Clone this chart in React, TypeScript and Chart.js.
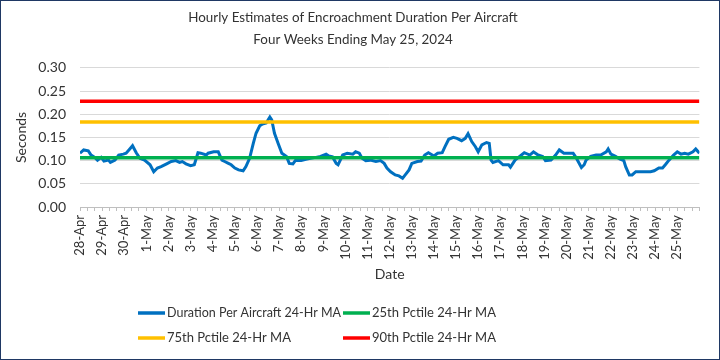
import React, { useEffect, useRef } from "react";
import { Chart, registerables } from "chart.js";

Chart.register(...registerables);

const titleLines = [
  "Hourly Estimates of Encroachment Duration Per Aircraft",
  "Four Weeks Ending May 25, 2024",
];

const dayLabels = [
  "28-Apr", "29-Apr", "30-Apr", "1-May", "2-May", "3-May", "4-May", "5-May",
  "6-May", "7-May", "8-May", "9-May", "10-May", "11-May", "12-May", "13-May",
  "14-May", "15-May", "16-May", "17-May", "18-May", "19-May", "20-May",
  "21-May", "22-May", "23-May", "24-May", "25-May",
];

const totalHours = 672;

// hours since 28-Apr 00:00
const hours = [
  0, 4, 9, 12, 16, 19, 23, 26, 31, 33, 38, 42, 47, 50, 54, 57, 61, 65, 70, 76,
  80, 84, 88, 94, 99, 104, 108, 111, 115, 120, 124, 128, 131, 137, 139, 145,
  150, 154, 157, 161, 164, 168, 172, 177, 180, 184, 188, 191, 195, 198, 202,
  206, 208, 211, 215, 219, 224, 227, 231, 234, 240, 245, 250, 256, 261, 267,
  270, 274, 278, 280, 285, 290, 296, 299, 303, 306, 310, 315, 321, 326, 330,
  333, 337, 342, 346, 350, 352, 357, 360, 366, 370, 374, 378, 384, 388, 393,
  396, 400, 405, 409, 414, 418, 421, 425, 429, 432, 436, 441, 444, 446, 448,
  454, 459, 465, 467, 472, 477, 482, 488, 492, 497, 502, 505, 511, 516, 520,
  525, 529, 535, 538, 544, 547, 549, 554, 560, 565, 571, 573, 576, 581, 586,
  590, 592, 596, 599, 603, 608, 614, 619, 623, 628, 632, 635, 639, 644, 648,
  652, 656, 660, 665, 668, 672,
];

const duration = [
  0.116, 0.123, 0.121, 0.112, 0.107, 0.101, 0.107, 0.099, 0.101, 0.096, 0.101,
  0.112, 0.114, 0.116, 0.125, 0.132, 0.117, 0.105, 0.101, 0.091, 0.076, 0.084,
  0.087, 0.093, 0.098, 0.1, 0.096, 0.098, 0.093, 0.089, 0.091, 0.117, 0.116,
  0.112, 0.116, 0.119, 0.119, 0.101, 0.098, 0.094, 0.091, 0.084, 0.08, 0.078,
  0.087, 0.105, 0.137, 0.159, 0.175, 0.179, 0.181, 0.194, 0.188, 0.159, 0.137,
  0.116, 0.109, 0.094, 0.093, 0.101, 0.1, 0.103, 0.105, 0.107, 0.109, 0.114,
  0.11, 0.108, 0.094, 0.091, 0.112, 0.116, 0.114, 0.119, 0.116, 0.105, 0.1,
  0.101, 0.098, 0.1, 0.094, 0.084, 0.076, 0.069, 0.067, 0.062, 0.067, 0.08,
  0.094, 0.098, 0.099, 0.112, 0.117, 0.11, 0.116, 0.117, 0.13, 0.146, 0.15,
  0.148, 0.143, 0.148, 0.158, 0.141, 0.13, 0.119, 0.134, 0.139, 0.137, 0.101,
  0.096, 0.1, 0.091, 0.091, 0.086, 0.101, 0.109, 0.117, 0.112, 0.119, 0.112,
  0.109, 0.1, 0.101, 0.112, 0.123, 0.116, 0.116, 0.116, 0.107, 0.085, 0.091,
  0.101, 0.109, 0.112, 0.112, 0.119, 0.125, 0.114, 0.109, 0.103, 0.1, 0.087,
  0.069, 0.069, 0.076, 0.076, 0.076, 0.076, 0.078, 0.084, 0.084, 0.091, 0.101,
  0.112, 0.119, 0.114, 0.116, 0.114, 0.119, 0.125, 0.116,
];

const pctile25 = 0.106;
const pctile75 = 0.183;
const pctile90 = 0.228;

const seriesNames = [
  "Duration Per Aircraft 24-Hr MA",
  "25th Pctile 24-Hr MA",
  "75th Pctile 24-Hr MA",
  "90th Pctile 24-Hr MA",
];
const seriesColors = ["#0070C0", "#00B050", "#FFC000", "#FF0000"];

const FONT = "Lato, 'Open Sans', sans-serif";
const TEXT = "#333333";

const gridLegend = {
  id: "gridLegend",
  afterDraw(chart: any) {
    const ctx = chart.ctx;
    const colX = [137, 342];
    const rowY = [312, 337];
    ctx.save();
    ctx.font = `13px ${FONT}`;
    ctx.fillStyle = TEXT;
    ctx.textBaseline = "middle";
    ctx.textAlign = "left";
    seriesNames.forEach((name, i) => {
      const x = colX[i % 2];
      const y = rowY[Math.floor(i / 2)];
      ctx.strokeStyle = seriesColors[i];
      ctx.lineWidth = 3.5;
      ctx.beginPath();
      ctx.moveTo(x, y);
      ctx.lineTo(x + 27, y);
      ctx.stroke();
      ctx.fillText(name, x + 29, y, 174);
    });
    ctx.restore();
  },
};

function constLine(v: number) {
  return [
    { x: 0, y: v },
    { x: totalHours, y: v },
  ];
}

export default function App() {
  const ref = useRef<HTMLCanvasElement>(null);
  useEffect(() => {
    document.body.style.margin = "0";
    const points = hours.map((h, i) => ({ x: h, y: duration[i] }));
    const chart = new Chart(ref.current!, {
      type: "line",
      data: {
        datasets: [
          {
            label: seriesNames[0],
            data: points,
            borderColor: seriesColors[0],
            borderWidth: 3,
            pointRadius: 0,
            tension: 0,
            order: 5,
          },
          {
            label: seriesNames[1],
            data: constLine(pctile25),
            borderColor: seriesColors[1],
            borderWidth: 3.5,
            pointRadius: 0,
            order: 1,
          },
          {
            label: seriesNames[2],
            data: constLine(pctile75),
            borderColor: seriesColors[2],
            borderWidth: 3.5,
            pointRadius: 0,
            order: 2,
          },
          {
            label: seriesNames[3],
            data: constLine(pctile90),
            borderColor: seriesColors[3],
            borderWidth: 3.5,
            pointRadius: 0,
            order: 3,
          },
        ],
      },
      options: {
        animation: false,
        responsive: false,
        maintainAspectRatio: false,
        layout: { padding: { top: 2, right: 14, bottom: 72, left: 0 } },
        plugins: {
          legend: { display: false },
          tooltip: { enabled: false },
          title: {
            display: true,
            text: titleLines,
            color: TEXT,
            font: { family: FONT, size: 13.4, weight: "normal", lineHeight: 1.62 },
            padding: { top: 4, bottom: 17.4 },
          },
        },
        scales: {
          x: {
            type: "linear",
            min: 0,
            max: totalHours,
            afterFit: (s: any) => {
              s.height = 80;
            },
            afterBuildTicks: (s: any) => {
              const t = [];
              for (let h = 0; h <= totalHours; h += 8) t.push({ value: h });
              s.ticks = t;
            },
            ticks: {
              autoSkip: false,
              minRotation: 90,
              maxRotation: 90,
              padding: 4,
              color: TEXT,
              font: { family: FONT, size: 13 },
              callback: (v: any) => {
                const n = Number(v);
                if (n % 24 !== 0) return "";
                return dayLabels[n / 24] ?? "";
              },
            },
            grid: {
              drawOnChartArea: false,
              drawTicks: true,
              tickLength: 4,
              color: "#bfbfbf",
            },
            border: { display: true, color: "#bfbfbf" },
            title: {
              display: true,
              text: "Date",
              color: TEXT,
              font: { family: FONT, size: 14 },
              padding: { top: 4, bottom: 4 },
            },
          },
          y: {
            min: 0,
            max: 0.3,
            afterFit: (s: any) => {
              s.width = 79;
            },
            ticks: {
              stepSize: 0.05,
              padding: 14,
              color: TEXT,
              font: { family: FONT, size: 14 },
              callback: (v: any) => Number(v).toFixed(2),
            },
            grid: { color: "#d9d9d9", drawTicks: false },
            border: { display: false },
            title: {
              display: true,
              text: "Seconds",
              color: TEXT,
              font: { family: FONT, size: 14 },
              padding: { top: 12, bottom: 0 },
            },
          },
        },
      },
      plugins: [gridLegend],
    });
    return () => chart.destroy();
  }, []);
  return (
    <div
      style={{
        width: 720,
        height: 360,
        boxSizing: "border-box",
        border: "1px solid #1F3864",
        background: "#fff",
      }}
    >
      <canvas ref={ref} width={718} height={358} style={{ display: "block" }} />
    </div>
  );
}
